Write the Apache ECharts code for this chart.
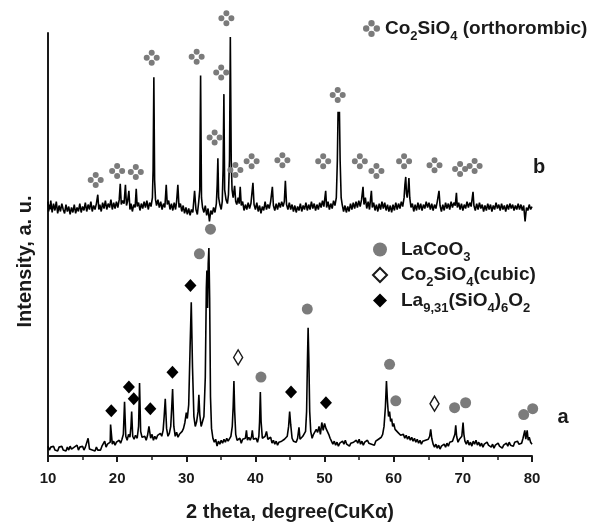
<!DOCTYPE html>
<html>
<head>
<meta charset="utf-8">
<title>XRD</title>
<script src="https://cdn.jsdelivr.net/npm/echarts@6/dist/echarts.min.js"></script>
<style>
    html, body {margin: 0; padding: 0; background: #fff;}
    #main {width: 600px; height: 527px;}
</style>
</head>
<body>
<div id="main"></div>
<script>
//x轴范围
var xMin = 10, xMax = 80, xStep = 10;
//y轴范围 (a.u.)
var yMin = 0, yMax = 429;

//曲线 a  [2theta, intensity]
var patternA = [
    [10.0,10],[10.2,6],[10.4,9],[10.6,7],[10.8,10],[11.0,6],[11.2,8],[11.4,5],[11.6,9],[11.8,7],
    [12.0,10],[12.2,6],[12.4,8],[12.6,5],[12.8,9],[13.0,6],[13.2,10],[13.4,7],[13.6,5],[13.8,9],
    [14.0,7],[14.2,11],[14.4,6],[14.6,9],[14.8,7],[15.0,10],[15.2,6],[15.4,9],[15.6,8],[15.8,18],
    [16.0,7],[16.2,9],[16.4,6],[16.6,8],[16.8,5],[17.0,9],[17.2,6],[17.4,8],[17.6,6],[17.8,10],
    [18.0,8],[18.2,15],[18.4,9],[18.6,12],[18.8,10],[19.0,14],[19.05,32],[19.15,31],[19.3,12],[19.5,15],
    [19.7,11],[19.9,14],[20.1,12],[20.3,16],[20.5,13],[20.7,17],[20.9,22],[21.07,55],[21.25,20],[21.45,16],
    [21.65,22],[21.85,19],[22.0,30],[22.1,45],[22.25,20],[22.45,17],[22.65,21],[22.9,18],[23.1,30],[23.24,74],
    [23.4,25],[23.6,19],[23.8,17],[24.0,20],[24.2,16],[24.4,21],[24.6,30],[24.7,29],[24.85,18],[25.05,22],
    [25.25,16],[25.45,20],[25.65,17],[25.85,21],[26.05,19],[26.25,23],[26.45,20],[26.65,26],[26.8,40],[26.96,58],
    [27.15,28],[27.35,20],[27.55,23],[27.75,30],[27.9,50],[28.02,68],[28.2,30],[28.4,20],[28.6,24],[28.8,19],
    [29.0,22],[29.2,20],[29.4,25],[29.6,28],[29.8,34],[30.0,44],[30.15,38],[30.35,52],[30.55,110],[30.72,156],
    [30.9,90],[31.1,40],[31.3,30],[31.5,35],[31.7,45],[31.82,62],[31.95,42],[32.15,30],[32.35,28],[32.55,40],
    [32.75,80],[32.9,170],[32.98,188],[33.08,150],[33.17,195],[33.27,211],[33.38,160],[33.5,60],[33.65,28],[33.85,18],
    [34.05,14],[34.25,17],[34.45,10],[34.65,15],[34.85,12],[35.05,16],[35.25,13],[35.45,17],[35.65,14],[35.85,18],
    [36.05,15],[36.25,17],[36.45,20],[36.65,30],[36.78,50],[36.89,76],[37.0,45],[37.15,22],[37.35,16],[37.55,14],
    [37.75,18],[37.95,13],[38.15,17],[38.35,15],[38.55,18],[38.7,26],[38.85,16],[39.05,19],[39.25,16],[39.45,20],
    [39.55,26],[39.7,17],[39.9,15],[40.1,18],[40.3,14],[40.5,20],[40.6,35],[40.71,65],[40.82,35],[41.0,18],
    [41.2,16],[41.4,20],[41.6,25],[41.8,17],[42.0,15],[42.2,19],[42.4,13],[42.6,16],[42.8,12],[43.0,15],
    [43.2,11],[43.4,14],[43.6,12],[43.8,15],[44.0,13],[44.2,17],[44.4,15],[44.6,20],[44.8,30],[44.95,45],
    [45.1,32],[45.3,18],[45.5,15],[45.7,17],[45.9,14],[46.1,18],[46.3,29],[46.45,17],[46.65,16],[46.85,20],
    [47.05,18],[47.25,25],[47.4,45],[47.52,95],[47.62,130],[47.72,100],[47.85,45],[48.0,25],[48.2,18],[48.4,22],
    [48.6,20],[48.8,27],[49.0,24],[49.2,30],[49.4,22],[49.6,34],[49.8,26],[50.0,33],[50.2,28],[50.4,30],
    [50.6,22],[50.8,18],[51.0,15],[51.2,12],[51.4,15],[51.6,11],[51.8,14],[52.0,10],[52.2,13],[52.4,11],
    [52.6,15],[52.8,12],[53.0,16],[53.2,12],[53.4,14],[53.6,10],[53.8,13],[54.0,11],[54.2,14],[54.4,12],
    [54.6,16],[54.8,13],[55.0,17],[55.2,12],[55.4,15],[55.6,11],[55.8,14],[56.0,12],[56.2,16],[56.4,13],
    [56.6,15],[56.8,12],[57.0,14],[57.2,11],[57.4,15],[57.6,13],[57.8,17],[58.0,15],[58.2,19],[58.4,22],
    [58.6,30],[58.8,50],[58.95,76],[59.1,55],[59.25,40],[59.4,45],[59.55,35],[59.7,38],[59.85,30],[60.0,33],
    [60.2,27],[60.4,29],[60.6,24],[60.8,26],[61.0,21],[61.2,19],[61.4,22],[61.6,18],[61.8,21],[62.0,17],
    [62.2,20],[62.4,16],[62.6,19],[62.8,15],[63.0,18],[63.2,14],[63.4,17],[63.6,13],[63.8,16],[64.0,12],
    [64.2,15],[64.4,13],[64.6,16],[64.8,14],[65.0,17],[65.2,20],[65.35,27],[65.5,18],[65.7,12],[65.9,9],
    [66.1,12],[66.3,8],[66.5,11],[66.7,7],[66.9,10],[67.1,8],[67.3,12],[67.5,9],[67.7,13],[67.9,10],
    [68.1,14],[68.3,12],[68.5,15],[68.7,17],[68.85,22],[68.97,31],[69.1,20],[69.3,14],[69.5,17],[69.7,15],
    [69.85,20],[70.03,34],[70.15,22],[70.3,15],[70.5,12],[70.7,16],[70.9,11],[71.1,14],[71.3,10],[71.5,15],
    [71.7,12],[71.9,16],[72.1,11],[72.3,14],[72.5,10],[72.7,13],[72.9,9],[73.1,12],[73.3,10],[73.5,14],
    [73.7,11],[73.9,13],[74.1,9],[74.3,12],[74.5,8],[74.7,11],[74.9,9],[75.1,13],[75.3,10],[75.5,12],
    [75.7,8],[75.9,11],[76.1,9],[76.3,13],[76.5,10],[76.7,14],[76.9,11],[77.1,13],[77.3,10],[77.5,14],
    [77.7,12],[77.9,15],[78.1,12],[78.3,14],[78.5,13],[78.7,18],[78.96,26],[79.1,17],[79.3,26],[79.45,16],
    [79.6,19],[79.8,14],[80.0,12]
];

//曲线 b  [2theta, intensity]
var patternB = [
    [10.0,258],[10.1,248],[10.2,255],[10.3,250],[10.4,259],[10.6,247],[10.8,256],[11.0,249],[11.2,258],[11.4,246],
    [11.6,254],[11.8,248],[12.0,256],[12.2,250],[12.4,246],[12.6,255],[12.8,248],[13.0,253],[13.2,245],[13.4,252],
    [13.6,247],[13.8,255],[14.0,246],[14.2,252],[14.4,248],[14.6,256],[14.8,247],[15.0,253],[15.2,249],[15.4,257],
    [15.6,248],[15.8,255],[16.0,250],[16.2,258],[16.4,248],[16.6,254],[16.8,250],[17.0,256],[17.2,265],[17.35,250],
    [17.5,255],[17.7,248],[17.9,257],[18.1,251],[18.3,259],[18.5,250],[18.7,256],[18.9,252],[19.1,260],[19.3,250],
    [19.5,257],[19.7,251],[19.9,258],[20.1,252],[20.3,260],[20.45,276],[20.6,255],[20.8,259],[21.0,256],[21.2,275],
    [21.35,254],[21.5,258],[21.7,269],[21.85,250],[22.0,256],[22.2,248],[22.4,255],[22.6,252],[22.76,271],[22.9,253],
    [23.1,257],[23.3,249],[23.5,256],[23.7,251],[23.9,258],[24.1,252],[24.3,259],[24.5,250],[24.7,257],[24.9,253],
    [25.1,262],[25.2,290],[25.31,384],[25.42,280],[25.55,260],[25.7,254],[25.9,260],[26.1,252],[26.3,258],[26.5,250],
    [26.7,256],[26.9,252],[27.1,275],[27.25,255],[27.45,259],[27.65,250],[27.85,256],[28.05,249],[28.25,257],[28.45,250],
    [28.6,258],[28.78,275],[28.95,252],[29.15,256],[29.35,248],[29.55,254],[29.75,246],[29.95,252],[30.15,245],[30.35,251],
    [30.55,244],[30.75,250],[30.95,247],[31.2,269],[31.4,250],[31.6,245],[31.8,258],[31.95,270],[32.07,386],[32.2,262],
    [32.35,252],[32.55,247],[32.75,254],[32.95,244],[33.15,251],[33.35,238],[33.55,249],[33.75,245],[33.95,252],[34.15,247],
    [34.35,256],[34.47,275],[34.57,302],[34.68,262],[34.85,255],[35.05,250],[35.2,258],[35.32,290],[35.44,367],[35.55,270],
    [35.75,260],[35.95,256],[36.1,265],[36.25,300],[36.37,425],[36.5,300],[36.62,270],[36.78,262],[36.99,274],[37.15,258],
    [37.3,255],[37.5,262],[37.65,256],[37.8,273],[37.95,254],[38.15,258],[38.35,249],[38.55,255],[38.75,250],[38.95,257],
    [39.15,251],[39.35,256],[39.5,254],[39.64,277],[39.8,255],[40.0,250],[40.2,257],[40.4,248],[40.6,254],[40.8,246],
    [41.0,253],[41.2,249],[41.4,258],[41.6,250],[41.8,255],[42.0,251],[42.2,258],[42.45,273],[42.6,254],[42.8,249],
    [43.0,256],[43.2,250],[43.4,257],[43.6,252],[43.8,258],[44.0,253],[44.18,258],[44.33,279],[44.5,255],[44.7,250],
    [44.9,257],[45.1,250],[45.3,255],[45.5,248],[45.7,254],[45.9,247],[46.1,253],[46.3,249],[46.5,256],[46.7,248],
    [46.9,254],[47.1,250],[47.3,257],[47.5,249],[47.7,255],[47.9,250],[48.1,258],[48.3,251],[48.5,256],[48.7,249],
    [48.9,255],[49.1,250],[49.3,257],[49.5,252],[49.7,259],[49.9,253],[50.16,269],[50.3,252],[50.5,258],[50.7,250],
    [50.9,256],[51.1,251],[51.3,259],[51.5,254],[51.7,262],[51.85,300],[51.95,349],[52.05,340],[52.15,349],[52.25,300],
    [52.4,262],[52.55,255],[52.75,248],[52.95,254],[53.15,247],[53.35,253],[53.55,248],[53.75,256],[53.95,250],[54.15,257],
    [54.35,251],[54.55,258],[54.75,252],[54.95,259],[55.15,253],[55.35,260],[55.56,273],[55.7,255],[55.9,262],[56.1,251],
    [56.3,258],[56.5,250],[56.77,269],[56.9,252],[57.1,257],[57.3,249],[57.5,255],[57.7,248],[57.9,256],[58.1,250],
    [58.3,258],[58.5,251],[58.7,257],[58.9,249],[59.1,255],[59.3,248],[59.5,254],[59.7,247],[59.9,255],[60.1,249],
    [60.3,257],[60.5,250],[60.7,256],[60.9,251],[61.1,258],[61.3,253],[61.5,262],[61.62,275],[61.74,283],[61.85,266],
    [61.95,262],[62.08,270],[62.2,282],[62.32,262],[62.5,252],[62.7,256],[62.9,248],[63.1,255],[63.3,249],[63.5,257],
    [63.7,250],[63.9,256],[64.1,249],[64.3,255],[64.5,251],[64.7,258],[64.9,252],[65.1,257],[65.3,250],[65.5,256],
    [65.7,249],[65.9,255],[66.1,251],[66.3,258],[66.55,269],[66.7,254],[66.9,248],[67.1,255],[67.3,249],[67.5,257],
    [67.7,251],[67.9,256],[68.1,250],[68.3,258],[68.5,252],[68.7,257],[68.9,254],[69.07,267],[69.2,252],[69.4,257],
    [69.6,250],[69.8,256],[70.0,249],[70.2,255],[70.4,251],[70.6,258],[70.8,252],[71.0,257],[71.2,253],[71.47,268],
    [71.6,254],[71.8,249],[72.0,256],[72.2,250],[72.4,257],[72.6,251],[72.8,255],[73.0,248],[73.2,254],[73.4,249],
    [73.6,256],[73.8,250],[74.0,255],[74.2,248],[74.4,254],[74.6,250],[74.8,257],[75.0,251],[75.2,255],[75.4,249],
    [75.6,256],[75.8,250],[76.0,254],[76.2,248],[76.4,255],[76.6,250],[76.8,256],[77.0,251],[77.2,255],[77.4,249],
    [77.6,254],[77.8,250],[78.0,256],[78.2,250],[78.4,255],[78.6,249],[78.8,254],[79.0,238],[79.2,252],[79.4,249],
    [79.6,255],[79.8,250],[80.0,253]
];

//物相标记 [2theta, 高度]
var orthoMarks = [
    [16.9,280],[20.0,289],[22.7,288],[25.0,404],[31.5,405],[34.1,323],[35.05,389],[35.8,444],[37.1,290],
    [39.45,299],[43.9,300],[49.8,299],[51.9,366],[55.1,299],[57.5,289],[61.5,299],[65.9,295],[69.6,291],[71.7,294]
];
var lacooMarks = [
    [31.9,205],[33.5,230],[40.8,80],[47.5,149],[59.4,93],[60.3,56],[68.8,49],[70.4,54],[78.8,42],[80.1,48]
];
var cubicMarks = [[37.5,100],[65.9,53]];
var lasioMarks = [
    [19.15,46],[21.7,70],[22.4,58],[24.8,48],[28.0,85],[30.6,173],[45.15,65],[50.2,54]
];

//图例名称 (富文本下标)
var nameOrtho = 'Co2SiO4 (orthorombic)';
var nameLacoo = 'LaCoO3';
var nameCubic = 'Co2SiO4(cubic)';
var nameLasio = 'La9,31(SiO4)6O2';
var legendText = {};
legendText[nameOrtho] = '{t|Co}{s|2}{t|SiO}{s|4}{t| (orthorombic)}';
legendText[nameLacoo] = '{t|LaCoO}{s|3}';
legendText[nameCubic] = '{t|Co}{s|2}{t|SiO}{s|4}{t|(cubic)}';
legendText[nameLasio] = '{t|La}{s|9,31}{t|(SiO}{s|4}{t|)}{s|6}{t|O}{s|2}';

var FONT = 'Liberation Sans, Arial, sans-serif';
var INK = '#1a1a1a';
var GREY = '#7b7b7b';

//四点菱形标记
var dotsSymbol = 'path://M-0.6,-1a0.6,0.6 0 1,0 1.2,0a0.6,0.6 0 1,0 -1.2,0Z' +
    'M0.4,0a0.6,0.6 0 1,0 1.2,0a0.6,0.6 0 1,0 -1.2,0Z' +
    'M-0.6,1a0.6,0.6 0 1,0 1.2,0a0.6,0.6 0 1,0 -1.2,0Z' +
    'M-1.6,0a0.6,0.6 0 1,0 1.2,0a0.6,0.6 0 1,0 -1.2,0Z';

var legendRich = {
    t: {fontFamily: FONT, fontWeight: 'bold', fontSize: 19, color: INK, lineHeight: 28},
    s: {fontFamily: FONT, fontWeight: 'bold', fontSize: 13, color: INK, verticalAlign: 'bottom'}
};

function legendFormatter(name) {
    return legendText[name] || name;
}

function markSeries(name, data, symbol, size, style) {
    style.opacity = 1;
    return {
        name: name,
        type: 'scatter',
        data: data,
        symbol: symbol,
        symbolSize: size,
        symbolKeepAspect: true,
        clip: false,
        z: 3,
        itemStyle: style,
        emphasis: {disabled: true}
    };
}

var chart = echarts.init(document.getElementById('main'));
chart.setOption({
    animation: false,
    backgroundColor: '#fff',
    grid: {left: 48, right: 68, top: 33, bottom: 65},
    legend: [
        {
            data: [nameOrtho],
            left: 358, top: 14,
            itemWidth: 17, itemHeight: 17,
            selectedMode: false,
            formatter: legendFormatter,
            textStyle: {rich: legendRich}
        },
        {
            data: [nameLacoo, nameCubic, nameLasio],
            orient: 'vertical',
            left: 367, top: 235,
            itemWidth: 14, itemHeight: 14,
            itemGap: 2,
            selectedMode: false,
            formatter: legendFormatter,
            textStyle: {rich: legendRich, padding: [0, 0, 0, 9]}
        }
    ],
    xAxis: {
        type: 'value',
        min: xMin, max: xMax, interval: xStep,
        name: '2 theta, degree(CuKα)',
        nameLocation: 'middle',
        nameGap: 46,
        nameTextStyle: {fontFamily: FONT, fontWeight: 'bold', fontSize: 20, color: INK},
        axisLine: {lineStyle: {color: INK, width: 2}},
        axisTick: {length: 6, lineStyle: {color: INK, width: 2}},
        minorTick: {show: true, splitNumber: 2, length: 4, lineStyle: {color: INK, width: 1.5}},
        axisLabel: {fontFamily: FONT, fontWeight: 'bold', fontSize: 15, color: INK, margin: 15},
        splitLine: {show: false}
    },
    yAxis: {
        type: 'value',
        min: yMin, max: yMax,
        name: 'Intensity, a. u.',
        nameLocation: 'middle',
        nameGap: 13,
        nameTextStyle: {fontFamily: FONT, fontWeight: 'bold', fontSize: 20, color: INK, padding: [0, 34, 0, 0]},
        axisLine: {show: true, lineStyle: {color: INK, width: 2}},
        axisTick: {show: false},
        axisLabel: {show: false},
        splitLine: {show: false}
    },
    series: [
        {
            name: 'a', type: 'line', data: patternA,
            showSymbol: false, silent: true,
            lineStyle: {color: '#000', width: 1.6}
        },
        {
            name: 'b', type: 'line', data: patternB,
            showSymbol: false, silent: true,
            lineStyle: {color: '#000', width: 1.6}
        },
        markSeries(nameOrtho, orthoMarks, dotsSymbol, 16, {color: GREY}),
        markSeries(nameLacoo, lacooMarks, 'circle', 11, {color: GREY}),
        markSeries(nameCubic, cubicMarks, 'diamond', [9, 15], {color: '#fff', borderColor: INK, borderWidth: 1.5}),
        markSeries(nameLasio, lasioMarks, 'diamond', [12, 13], {color: '#000'})
    ],
    graphic: [
        {type: 'text', x: 563, y: 417, style: {text: 'a', font: 'bold 20px ' + FONT, fill: INK, align: 'center', verticalAlign: 'middle'}},
        {type: 'text', x: 539, y: 167, style: {text: 'b', font: 'bold 20px ' + FONT, fill: INK, align: 'center', verticalAlign: 'middle'}}
    ]
});
</script>
</body>
</html>
